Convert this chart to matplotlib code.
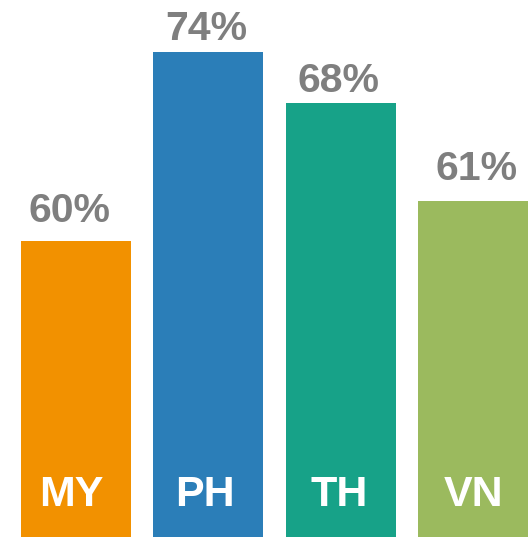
import matplotlib
matplotlib.use('Agg')
import matplotlib.pyplot as plt
import matplotlib.transforms as mtransforms

plt.rcParams['font.family'] = ['Liberation Sans', 'DejaVu Sans']

#data
countries = ['MY', 'PH', 'TH', 'VN']
value_labels = ['60%', '74%', '68%', '61%']
bar_heights = [45.2, 74.0, 66.2, 51.3]      #bar lengths as drawn (not linear to labels)
colors = ['#F29100', '#2B7EB8', '#17A288', '#9BBA5E']

#label nudges in points (the source placed them by hand)
value_dx = [-5.0, -1.1, -1.4, 2.9]
value_dy = [13.7, 8.6, 7.9, 15.1]
name_dx = [-3.6, -2.2, -1.4, 0.0]

fig = plt.figure(figsize=(5.29, 5.41), dpi=100)
ax = fig.add_axes([0, 0, 1, 1])

x = list(range(len(countries)))
bars = ax.bar(x, bar_heights, width=0.831, color=colors)

ax.set_xlim(-0.574, 3.423)
ax.set_ylim(-0.61, 81.93)
ax.axis('off')

#value labels above the bars
for xi, h, lab, dx, dy in zip(x, bar_heights, value_labels, value_dx, value_dy):
    ax.annotate(lab, (xi, h), xytext=(dx, dy), textcoords='offset points',
                ha='center', va='baseline', fontsize=29.5, fontweight='bold', color='#7F7F7F')

#country names inside the bars
trans = mtransforms.blended_transform_factory(ax.transData, ax.transAxes)
for xi, name, dx in zip(x, countries, name_dx):
    ax.annotate(name, (xi, 0.0647), xycoords=trans, xytext=(dx, 0), textcoords='offset points',
                ha='center', va='baseline', fontsize=31, fontweight='bold', color='white')

fig.savefig('out.png', dpi=100)
